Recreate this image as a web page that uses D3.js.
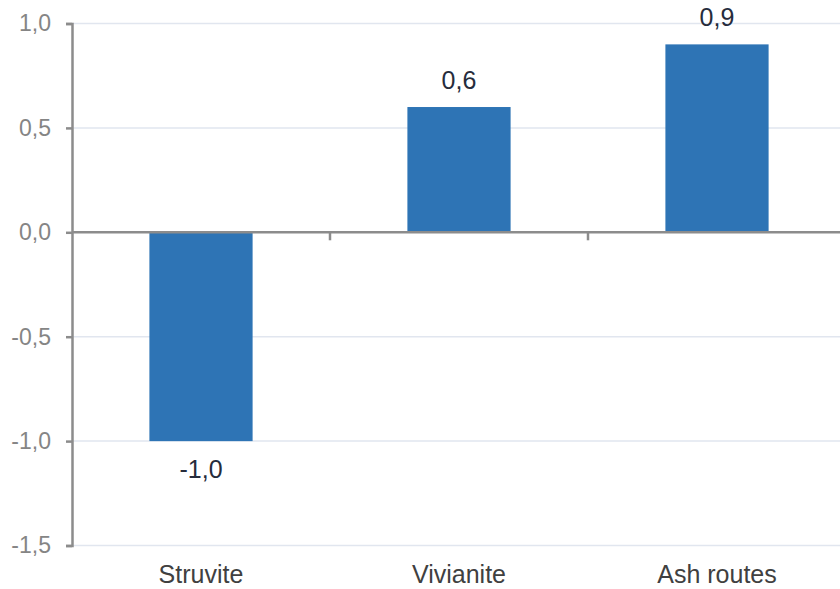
<!DOCTYPE html>
<html>
<head>
<meta charset="utf-8">
<script src="https://cdn.jsdelivr.net/npm/d3@7"></script>
<style>
  html, body { margin: 0; padding: 0; background: #fff; }
  svg { display: block; font-family: "Liberation Sans", Arial, sans-serif; }
</style>
</head>
<body>
<svg id="chart" width="840" height="589"></svg>
<script>
// Net change per phosphorus recovery route
const categories = ["Struvite", "Vivianite", "Ash routes"];
const values = [-1.0, 0.6, 0.9];
const yTicks = [1.0, 0.5, 0.0, -0.5, -1.0, -1.5];

const svg = d3.select("#chart");
const fmt = v => d3.format(".1f")(v).replace(".", ",").replace("−", "-");

const x = d3.scaleBand().domain(categories).range([72, 846]);
const y = d3.scaleLinear().domain([-1.5, 1.0]).range([545.5, 23.5]);
const barW = x.bandwidth() * 0.4;

// horizontal gridlines
svg.append("g").selectAll("line").data(yTicks.filter(t => t !== 0)).join("line")
  .attr("x1", 72).attr("x2", 840)
  .attr("y1", d => y(d)).attr("y2", d => y(d))
  .attr("stroke", "#e1e6ef").attr("stroke-width", 1.5);

// bars
svg.append("g").selectAll("rect").data(values).join("rect")
  .attr("x", (d, i) => x(categories[i]) + (x.bandwidth() - barW) / 2)
  .attr("width", barW)
  .attr("y", d => y(Math.max(0, d)))
  .attr("height", d => Math.abs(y(d) - y(0)))
  .attr("fill", "#2e74b5");

// y axis
const yAxis = d3.axisLeft(y).tickValues(yTicks).tickSize(6).tickPadding(15).tickFormat(fmt);
const gy = svg.append("g").attr("transform", "translate(72,0)").call(yAxis);
gy.attr("font-size", 23).attr("font-family", "Liberation Sans, Arial, sans-serif");
gy.select(".domain").attr("stroke", "#8c8c8c").attr("stroke-width", 2.5);
gy.selectAll(".tick line").attr("stroke", "#8c8c8c").attr("stroke-width", 2.5);
gy.selectAll(".tick text").attr("fill", "#858585").attr("font-size", 23);

// zero baseline with category separators
svg.append("line").attr("x1", 72).attr("x2", 840)
  .attr("y1", y(0)).attr("y2", y(0))
  .attr("stroke", "#8c8c8c").attr("stroke-width", 2.5);
svg.append("g").selectAll("line").data(categories.slice(1)).join("line")
  .attr("x1", d => x(d)).attr("x2", d => x(d))
  .attr("y1", y(0)).attr("y2", y(0) + 8)
  .attr("stroke", "#8c8c8c").attr("stroke-width", 2.5);

// category labels
svg.append("g").selectAll("text").data(categories).join("text")
  .attr("x", d => x(d) + x.bandwidth() / 2)
  .attr("y", 583)
  .attr("text-anchor", "middle")
  .attr("font-size", 25)
  .attr("fill", "#404040")
  .text(d => d);

// value labels
svg.append("g").selectAll("text").data(values).join("text")
  .attr("x", (d, i) => x(categories[i]) + x.bandwidth() / 2)
  .attr("y", d => d >= 0 ? y(d) - 18 : y(d) + 37)
  .attr("text-anchor", "middle")
  .attr("font-size", 25)
  .attr("fill", "#262c3c")
  .text(d => fmt(d));
</script>
</body>
</html>
